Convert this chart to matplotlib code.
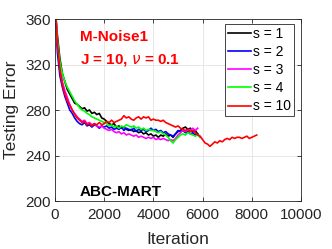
import matplotlib
matplotlib.use("Agg")
import matplotlib.pyplot as plt

plt.rcParams['font.family'] = ['Liberation Sans', 'DejaVu Sans']

# iteration grids (step 100)
iters_s1 = list(range(0, 5801, 100))
iters_s2 = list(range(0, 5901, 100))
iters_s3 = list(range(0, 5801, 100))
iters_s4 = list(range(0, 5901, 100))
iters_s10 = list(range(0, 8201, 100))

err_s1 = [372, 345, 325, 312, 305, 298, 294, 290, 286, 285,
          283, 281, 282, 279, 280, 277, 278, 276, 277, 273,
          272, 270, 268, 267, 268, 265, 266, 264, 265, 263,
          262, 263, 261, 262, 260, 261, 259, 260, 258, 259,
          257, 258, 256, 258, 257, 259, 257, 258, 256, 259,
          261, 262, 264, 265, 263, 264, 261, 262, 259]

err_s2 = [368, 330, 310, 300, 292, 286, 280, 277, 273, 270,
          268, 267, 269, 266, 267, 265, 267, 266, 264, 266,
          265, 266, 264, 265, 263, 264, 263, 265, 262, 264,
          263, 262, 264, 261, 263, 262, 263, 261, 262, 264,
          262, 263, 261, 262, 260, 261, 259, 258, 257, 259,
          262, 261, 262, 260, 261, 259, 260, 258, 259, 256]

err_s3 = [375, 340, 318, 305, 297, 291, 285, 280, 277, 274,
          272, 270, 271, 268, 269, 267, 268, 266, 265, 266,
          264, 263, 262, 263, 261, 260, 261, 259, 260, 258,
          259, 258, 257, 258, 256, 257, 256, 255, 256, 255,
          256, 254, 255, 254, 255, 254, 253, 254, 253, 255,
          258, 260, 262, 261, 263, 262, 264, 262, 264]

err_s4 = [370, 340, 322, 312, 305, 300, 296, 292, 288, 285,
          282, 280, 279, 277, 276, 274, 273, 272, 271, 270,
          269, 268, 266, 267, 265, 266, 264, 266, 265, 267,
          266, 265, 266, 264, 265, 263, 264, 262, 263, 262,
          262, 261, 260, 261, 259, 258, 256, 253, 251, 254,
          256, 258, 259, 258, 260, 259, 258, 257, 258, 256]

err_s10 = [372, 338, 315, 302, 294, 288, 284, 280, 276, 273,
           271, 269, 270, 267, 268, 266, 268, 267, 269, 267,
           268, 270, 269, 271, 269, 270, 271, 272, 275, 273,
           274, 272, 271, 273, 274, 272, 274, 273, 274, 271,
           272, 271, 271, 270, 271, 269, 268, 267, 266, 265,
           266, 264, 263, 262, 263, 261, 262, 260, 258, 257,
           254, 251, 250, 248, 250, 252, 251, 253, 252, 254,
           255, 254, 256, 255, 256, 256, 255, 256, 257, 255,
           256, 257, 258]

labels = ['s = 1', 's = 2', 's = 3', 's = 4', 's = 10']
colors = ['#000000', '#0000ff', '#ff00ff', '#00ff00', '#ff0000']

fig = plt.figure(figsize=(3.32, 2.49), dpi=100)
ax = fig.add_axes([55 / 332, 1 - 201 / 249, 246 / 332, 182 / 249])

series = [(iters_s1, err_s1), (iters_s2, err_s2), (iters_s3, err_s3),
          (iters_s4, err_s4), (iters_s10, err_s10)]
for (x, y), lab, c in zip(series, labels, colors):
    ax.plot(x, y, color=c, linewidth=1.2, label=lab)

ax.set_xlim(0, 10000)
ax.set_ylim(200, 360)
ax.set_xticks([0, 2000, 4000, 6000, 8000, 10000])
ax.set_yticks([200, 240, 280, 320, 360])
ax.grid(True, color='#e3e3e3', linewidth=0.6)
ax.set_axisbelow(True)
ax.tick_params(direction='in', length=3, width=0.6, colors='#262626',
               labelsize=11, top=True, right=True)
ax.tick_params(axis='x', pad=5)
ax.tick_params(axis='y', pad=3)
for sp in ax.spines.values():
    sp.set_color('#262626')
    sp.set_linewidth(0.6)

ax.set_xlabel('Iteration', fontsize=12.5, color='#262626', va='center')
ax.set_ylabel('Testing Error', fontsize=12.5, color='#262626', va='center')
ax.xaxis.set_label_coords(0.5, (201 - 239) / 182)
ax.yaxis.set_label_coords((12 - 55) / 246, 0.5)

ax.text(1000, 344, 'M-Noise1', color='#ff0000', fontsize=11,
        fontweight='bold', va='center', ha='left')
ax.text(1000, 324, r'J = 10, $\nu$ = 0.1', color='#ff0000', fontsize=11,
        fontweight='bold', va='center', ha='left')
ax.text(1000, 208, 'ABC-MART', color='#000000', fontsize=11,
        fontweight='bold', va='center', ha='left')

leg = ax.legend(loc='upper right', bbox_to_anchor=(0.9715, 0.9725),
                borderaxespad=0, fontsize=10, handlelength=1.65,
                handletextpad=0.15, labelspacing=0.3, borderpad=0.2,
                fancybox=False, framealpha=1)
leg.get_frame().set_edgecolor('#262626')
leg.get_frame().set_linewidth(0.6)

fig.savefig('out.png', dpi=100)
